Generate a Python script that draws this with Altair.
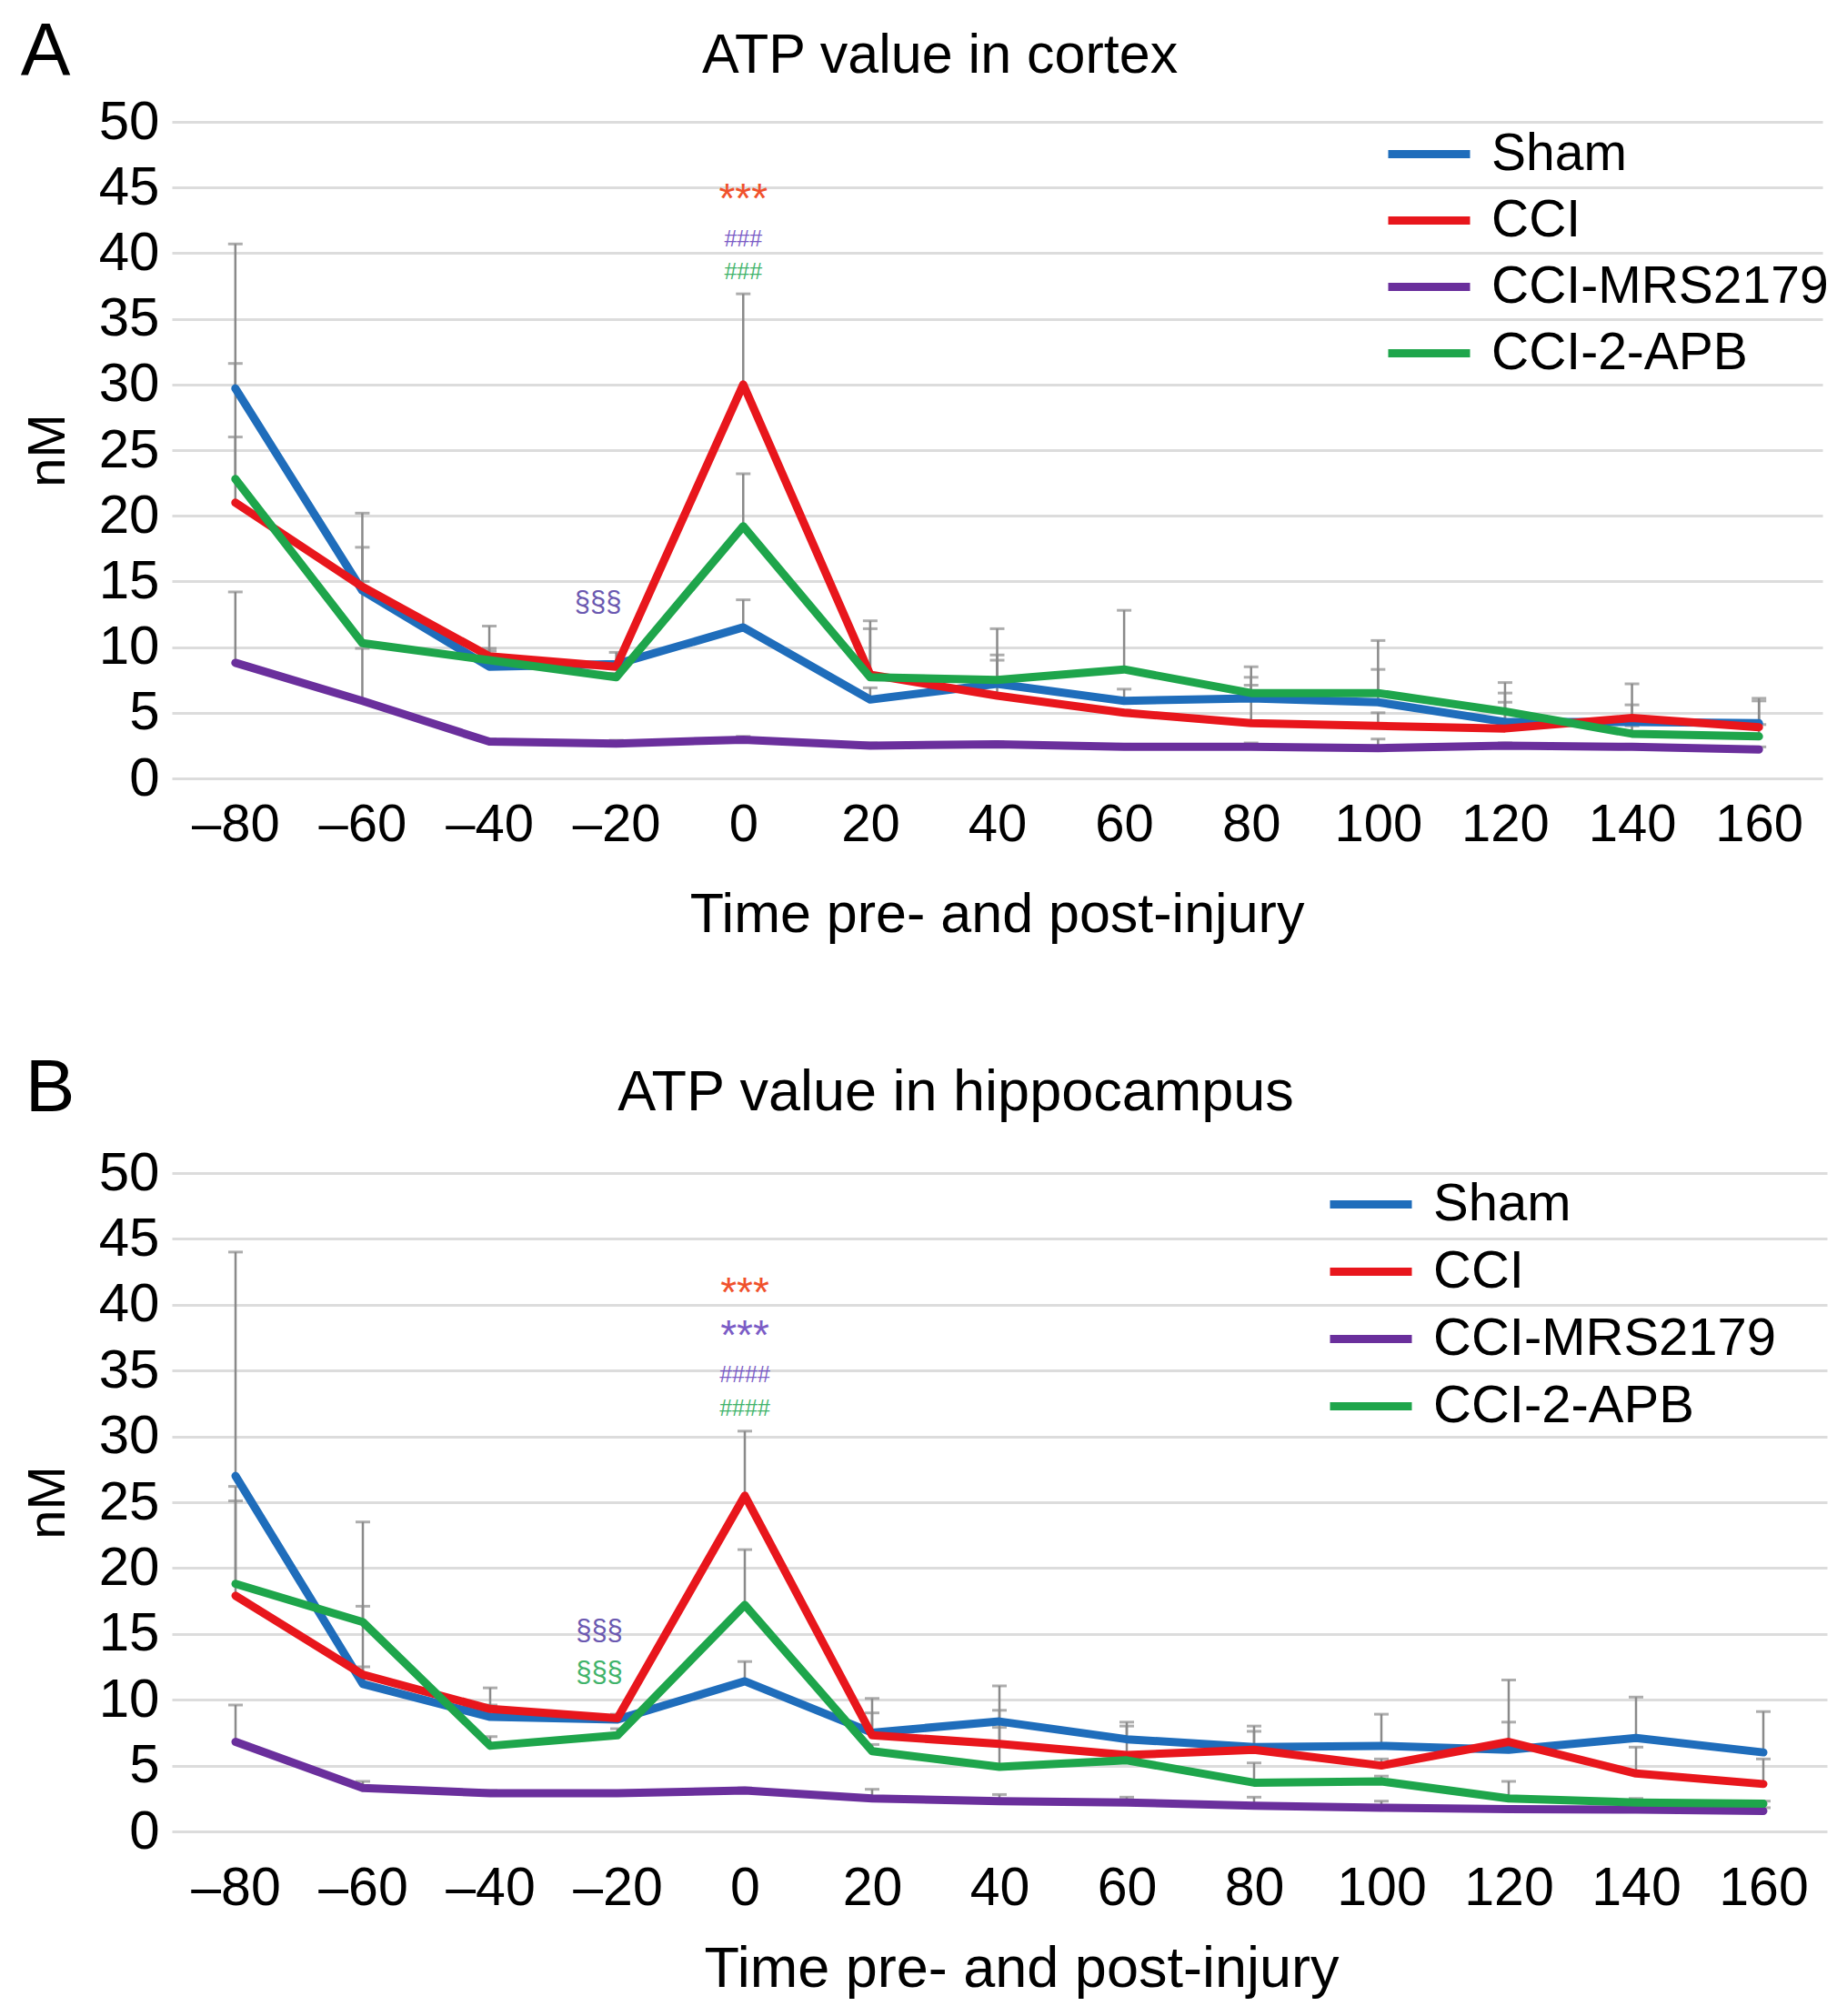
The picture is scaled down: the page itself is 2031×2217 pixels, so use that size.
import altair as alt
import pandas as pd

# ---------------- data ----------------
times = ["–80", "–60", "–40", "–20", "0", "20", "40", "60", "80", "100", "120", "140", "160"]
series = ["Sham", "CCI", "CCI-MRS2179", "CCI-2-APB"]
colors = ["#1f6dbb", "#e8161c", "#6a2f9c", "#1ea54b"]

# Panel A: cortex (means and top of the upper error bar)
cortex_sham = [29.7, 14.3, 8.5, 8.7, 11.5, 6.0, 7.2, 5.9, 6.1, 5.8, 4.3, 4.3, 4.2]
cortex_cci = [21.0, 14.6, 9.3, 8.5, 30.0, 7.9, 6.3, 5.0, 4.2, 4.0, 3.8, 4.6, 3.9]
cortex_mrs = [8.8, 5.9, 2.8, 2.65, 2.95, 2.5, 2.6, 2.4, 2.4, 2.3, 2.5, 2.4, 2.2]
cortex_apb = [22.8, 10.3, 9.0, 7.7, 19.2, 7.7, 7.5, 8.3, 6.5, 6.5, 5.1, 3.4, 3.2]
cortex_sham_up = [40.7, 20.2, 11.6, 9.6, 13.6, 6.9, 9.4, 6.8, 7.7, 8.3, 6.5, 5.6, 6.1]
cortex_cci_up = [26.0, 17.6, 9.9, 8.9, 36.9, 12.0, 9.0, 5.2, 7.1, 5.0, 5.8, 7.2, 5.9]
cortex_mrs_up = [14.2, 9.9, 3.0, 2.9, 3.2, 2.7, 2.8, 2.6, 2.7, 3.0, 2.7, 2.6, 2.4]
cortex_apb_up = [31.6, 15.0, 9.7, 8.0, 23.2, 11.4, 11.4, 12.8, 8.5, 10.5, 7.3, 4.0, 4.1]

# Panel B: hippocampus
hipp_sham = [27.0, 11.2, 8.7, 8.5, 11.4, 7.5, 8.35, 7.0, 6.4, 6.5, 6.2, 7.1, 6.0]
hipp_cci = [17.9, 11.9, 9.3, 8.6, 25.5, 7.3, 6.65, 5.8, 6.2, 5.0, 6.8, 4.4, 3.6]
hipp_mrs = [6.8, 3.3, 2.9, 2.9, 3.1, 2.5, 2.3, 2.2, 1.95, 1.8, 1.7, 1.65, 1.55]
hipp_apb = [18.8, 15.9, 6.5, 7.3, 17.2, 6.1, 4.9, 5.4, 3.7, 3.8, 2.5, 2.2, 2.1]
hipp_sham_up = [44.0, 17.1, 9.6, 8.8, 12.9, 10.1, 11.05, 8.3, 8.0, 8.9, 8.3, 10.2, 9.1]
hipp_cci_up = [25.1, 12.5, 10.9, 8.9, 30.4, 9.0, 9.2, 8.0, 7.6, 5.5, 11.5, 6.4, 5.5]
hipp_mrs_up = [9.6, 3.8, 3.1, 3.0, 3.3, 3.2, 2.8, 2.6, 2.6, 2.3, 1.9, 1.8, 1.8]
hipp_apb_up = [26.2, 23.5, 7.2, 7.8, 21.4, 6.6, 7.9, 5.8, 5.2, 4.2, 3.8, 2.5, 2.3]

# significance marks: (time, value, text, colour)
cortex_marks_x = ["0", "0", "0", "–20"]
cortex_marks_y = [44.6, 41.1, 38.6, 13.4]
cortex_marks_t = ["***", "###", "###", "§§§"]
cortex_marks_c = ["#f0512c", "#7b5cc6", "#3fb36a", "#6a58b0"]

hipp_marks_x = ["0", "0", "0", "0", "–20", "–20"]
hipp_marks_y = [41.4, 38.1, 34.7, 32.1, 15.2, 12.0]
hipp_marks_t = ["***", "***", "####", "####", "§§§", "§§§"]
hipp_marks_c = ["#f0512c", "#7b5cc6", "#7b5cc6", "#3fb36a", "#6a58b0", "#3fb36a"]

FONT = "Liberation Sans"


def long_df(means, ups):
    rows = []
    for s, m, u in zip(series, means, ups):
        for t, v, w in zip(times, m, u):
            rows.append({"time": t, "series": s, "value": v, "upper": w})
    return pd.DataFrame(rows)


def marks_df(xs, ys, ts, cs):
    return pd.DataFrame({"time": xs, "value": ys, "label": ts, "col": cs})


def panel(df, mk, title, title_dx, title_dy, title_fs, letter, letter_xy, width, height,
          legend_x, legend_y, legend_fs, xlab_fs, xlab_pad, xtitle_fs, xtitle_pad, xtitle_x):
    x = alt.X("time:O", sort=times, scale=alt.Scale(type="point", padding=0.5),
              axis=alt.Axis(title="Time pre- and post-injury", labelAngle=0, grid=False,
                            domain=False, ticks=False, tickSize=0, labelPadding=xlab_pad,
                            labelFontSize=xlab_fs, titleFontSize=xtitle_fs,
                            titlePadding=xtitle_pad, titleX=xtitle_x,
                            titleFontWeight="normal", labelFont=FONT, titleFont=FONT,
                            labelColor="black", titleColor="black"))
    y_axis = alt.Axis(title="nM", values=list(range(0, 51, 5)), grid=True, gridColor="#dcdcdc",
                      gridWidth=3, domain=False, ticks=False, tickSize=0, labelPadding=14,
                      labelFontSize=60, titleFontSize=58, titleFontWeight="normal",
                      titlePadding=26, labelFont=FONT, titleFont=FONT,
                      labelColor="black", titleColor="black")
    yscale = alt.Scale(domain=[0, 50], nice=False)

    base = alt.Chart(df)
    rules = base.mark_rule(color="#8a8a8a", strokeWidth=2.5).encode(
        x=x, y=alt.Y("value:Q", scale=yscale, axis=y_axis), y2="upper:Q")
    caps = base.mark_tick(color="#8a8a8a", thickness=3, size=16, orient="horizontal").encode(
        x=x, y=alt.Y("upper:Q", scale=yscale))
    lines = base.mark_line(strokeWidth=9, strokeCap="round", strokeJoin="round").encode(
        x=x, y=alt.Y("value:Q", scale=yscale),
        color=alt.Color("series:N", sort=series,
                        scale=alt.Scale(domain=series, range=colors),
                        legend=alt.Legend(title=None, orient="none", legendX=legend_x,
                                          legendY=legend_y,
                                          symbolType="M-1.25,0H1.25", symbolSize=5184,
                                          symbolStrokeWidth=9, labelFontSize=legend_fs,
                                          labelFont=FONT,
                                          labelOffset=28, rowPadding=4, padding=0,
                                          labelColor="black", labelLimit=0)),
        detail="series:N")

    mb = alt.Chart(mk)
    stars = mb.transform_filter("indexof(datum.label, '*') >= 0").mark_text(
        fontSize=46, font=FONT, baseline="middle", dy=8).encode(
        x=x, y=alt.Y("value:Q", scale=yscale), text="label:N",
        color=alt.Color("col:N", scale=None))
    hashes = mb.transform_filter("indexof(datum.label, '#') >= 0").mark_text(
        fontSize=25, font=FONT, baseline="middle").encode(
        x=x, y=alt.Y("value:Q", scale=yscale), text="label:N",
        color=alt.Color("col:N", scale=None))
    sects = mb.transform_filter("indexof(datum.label, '§') >= 0").mark_text(
        fontSize=31, font=FONT, baseline="middle", dx=-20).encode(
        x=x, y=alt.Y("value:Q", scale=yscale), text="label:N",
        color=alt.Color("col:N", scale=None))

    let = alt.Chart(pd.DataFrame({"t": [letter]})).mark_text(
        fontSize=82, font=FONT, baseline="middle", align="center", color="black").encode(
        text="t:N", x=alt.value(letter_xy[0]), y=alt.value(letter_xy[1]))

    return alt.layer(rules, caps, lines, stars, hashes, sects, let).properties(
        width=width, height=height,
        title=alt.TitleParams(title, fontSize=title_fs, fontWeight="normal", font=FONT,
                              color="black", anchor="middle", dx=title_dx, dy=title_dy,
                              offset=38))


dfA = long_df([cortex_sham, cortex_cci, cortex_mrs, cortex_apb],
              [cortex_sham_up, cortex_cci_up, cortex_mrs_up, cortex_apb_up])
dfB = long_df([hipp_sham, hipp_cci, hipp_mrs, hipp_apb],
              [hipp_sham_up, hipp_cci_up, hipp_mrs_up, hipp_apb_up])
mkA = marks_df(cortex_marks_x, cortex_marks_y, cortex_marks_t, cortex_marks_c)
mkB = marks_df(hipp_marks_x, hipp_marks_y, hipp_marks_t, hipp_marks_c)

pA = panel(dfA, mkA, "ATP value in cortex", -63, 115, 61, "A", (-139, -77), 1815, 722,
           1342, -5, 57, 58, 22, 61, 40, 907)
pB = panel(dfB, mkB, "ATP value in hippocampus", -48, 116, 63, "B", (-134, -93), 1820, 724,
           1278, -6, 58, 59, 33, 63, 28, 934)

chart = alt.vconcat(pA, pB, spacing=120).resolve_scale(color="independent").resolve_legend(
    color="independent").properties(
    padding={"left": 14, "top": 8, "right": 5, "bottom": 5},
    background="white"
).configure_view(stroke=None)

chart.save("out.html", embed_options={"renderer": "svg", "actions": False})
